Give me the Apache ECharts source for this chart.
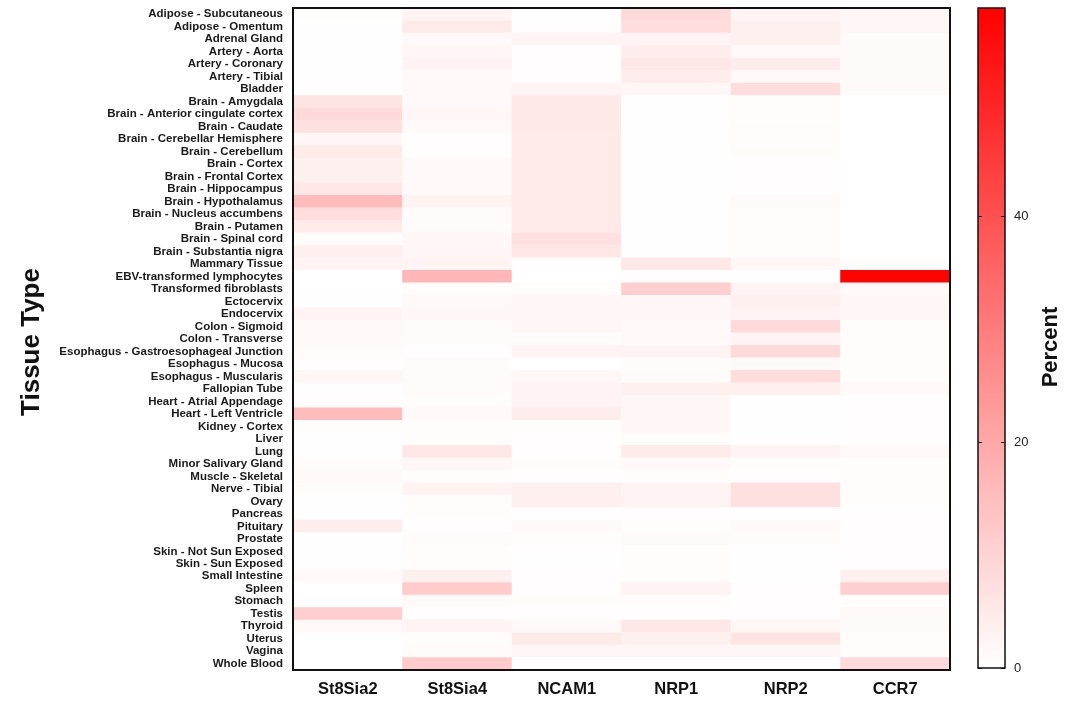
<!DOCTYPE html>
<html>
<head>
<meta charset="utf-8">
<title>Tissue expression heatmap</title>
<script src="https://cdn.jsdelivr.net/npm/echarts@6/dist/echarts.min.js"></script>
<style>
  html, body { margin: 0; padding: 0; background: #fff; }
  #chart { width: 1071px; height: 703px; }
</style>
</head>
<body>
<div id="chart"></div>
<script>
// Tissue rows, top to bottom
const tissues = [
  'Adipose - Subcutaneous', 'Adipose - Omentum', 'Adrenal Gland', 'Artery - Aorta',
  'Artery - Coronary', 'Artery - Tibial', 'Bladder', 'Brain - Amygdala',
  'Brain - Anterior cingulate cortex', 'Brain - Caudate', 'Brain - Cerebellar Hemisphere',
  'Brain - Cerebellum', 'Brain - Cortex', 'Brain - Frontal Cortex', 'Brain - Hippocampus',
  'Brain - Hypothalamus', 'Brain - Nucleus accumbens', 'Brain - Putamen', 'Brain - Spinal cord',
  'Brain - Substantia nigra', 'Mammary Tissue', 'EBV-transformed lymphocytes',
  'Transformed fibroblasts', 'Ectocervix', 'Endocervix', 'Colon - Sigmoid', 'Colon - Transverse',
  'Esophagus - Gastroesophageal Junction', 'Esophagus - Mucosa', 'Esophagus - Muscularis',
  'Fallopian Tube', 'Heart - Atrial Appendage', 'Heart - Left Ventricle', 'Kidney - Cortex',
  'Liver', 'Lung', 'Minor Salivary Gland', 'Muscle - Skeletal', 'Nerve - Tibial', 'Ovary',
  'Pancreas', 'Pituitary', 'Prostate', 'Skin - Not Sun Exposed', 'Skin - Sun Exposed',
  'Small Intestine', 'Spleen', 'Stomach', 'Testis', 'Thyroid', 'Uterus', 'Vagina', 'Whole Blood'
];

// Gene columns, left to right
const genes = ['St8Sia2', 'St8Sia4', 'NCAM1', 'NRP1', 'NRP2', 'CCR7'];

// Percent expression per tissue (same order as tissues)
const st8sia2 = [
  0.7, 0.3, 0.3, 0.3, 0.3, 0.3, 0.4, 6.3, 8.4, 7, 2.1, 4.9, 3.5, 3.5, 5.6, 15.4, 7.7, 4.9, 0.7, 3.5,
  2.8, 0, 0, 0.3, 2.8, 1.4, 1.4, 1, 0.4, 2.1, 0.3, 0.4, 15.4, 0.7, 0.3, 0.3, 1, 1.4, 0.7, 0.3,
  0, 4.2, 0.3, 0.3, 0.3, 1.4, 0, 0.4, 11.2, 1.4, 0.1, 0.1, 0.1
];
const st8sia4 = [
  2.8, 4.9, 1.4, 2.1, 2.8, 1.4, 1.4, 1.4, 2.1, 1.4, 0.4, 0.4, 1.4, 1.4, 1.4, 2.8, 1, 1, 2.1, 2.1,
  2.8, 16.8, 0.7, 1.4, 1.8, 1, 1, 0.4, 1, 1, 1, 0.7, 1.4, 0.7, 0.7, 5.6, 2.1, 0.7, 2.8, 0.7,
  0.7, 0.4, 1, 0.7, 0.7, 3.5, 11.9, 1.4, 0.4, 2.8, 0.7, 1, 11.9
];
const ncam1 = [
  0.3, 0.4, 2.8, 0.4, 0.4, 0.4, 2.8, 5.2, 5.2, 5.2, 5, 5, 5, 5, 5, 5, 5, 5, 7, 5.6,
  0.4, 0, 0.7, 2.1, 2.1, 2.1, 0.7, 2.8, 0, 2.1, 2.8, 2.8, 4.2, 0.7, 0.4, 0.4, 0.7, 0.4, 3.5, 3.5,
  0.4, 1.4, 0.7, 0.4, 0.3, 0.4, 0.4, 0.7, 0.4, 1.4, 4.9, 2.1, 0
];
const nrp1 = [
  8.4, 7.7, 2.8, 4.2, 5.6, 4.2, 2.1, 0.3, 0.3, 0.3, 0.3, 0.3, 0.3, 0.3, 0.3, 0.3, 0.3, 0.3, 0.3, 0.3,
  5.6, 0.4, 11.2, 2.1, 2.1, 1.4, 1.4, 2.8, 1, 1, 3.5, 2.1, 2.1, 2.1, 0.7, 4.9, 1.4, 0.7, 2.8, 2.8,
  0.4, 0.7, 1.1, 0.7, 0.7, 0.7, 2.8, 0.7, 0.4, 5.6, 3.5, 2.1, 0
];
const nrp2 = [
  2.8, 3.5, 3.5, 1.4, 4.2, 1.4, 7.7, 0.7, 0.7, 0.7, 0.7, 0.7, 0.4, 0.4, 0.4, 1.1, 0.7, 0.7, 0.7, 0.7,
  2.1, 0.3, 2.8, 3.5, 2.8, 8.4, 2.8, 8.4, 1.4, 7.7, 3.5, 0.3, 0.3, 0.3, 0.3, 2.8, 0.7, 0.4, 7, 7,
  0.4, 1.4, 1, 0.3, 0.3, 0.3, 0.4, 0.4, 0.4, 2.1, 6.3, 2.1, 0
];
const ccr7 = [
  2.1, 2.1, 1.1, 1.1, 1.1, 1.1, 1.4, 0, 0, 0, 0, 0, 0, 0, 0, 0, 0, 0, 0, 0,
  0.7, 58, 1.4, 2.1, 2.1, 0.7, 0.7, 0.7, 0.7, 0.7, 1.4, 0.4, 0.4, 0.4, 0.4, 1.4, 0.7, 0.7, 0.7, 0.7,
  0.4, 0.4, 0.4, 0.4, 0.4, 3.5, 11.2, 0.7, 1.4, 1.1, 0.7, 0.7, 8.4
];

// Colour scale
const percentMin = 0;
const percentMax = 58.5;
const percentTicks = [0, 20, 40];

const geneValues = [st8sia2, st8sia4, ncam1, nrp1, nrp2, ccr7];
const cells = [];
geneValues.forEach((values, gi) => {
  values.forEach((v, ti) => cells.push([gi, ti, v]));
});

const FONT = '"Liberation Sans", Arial, Helvetica, sans-serif';
const frameLine = { show: true, lineStyle: { color: '#111', width: 2 } };

const chart = echarts.init(document.getElementById('chart'), null, { renderer: 'canvas' });

chart.setOption({
  animation: false,
  backgroundColor: '#fff',
  textStyle: { fontFamily: FONT },
  grid: [
    { left: 293, top: 8, width: 657, height: 662, show: false },
    {
      left: 978, top: 8, width: 27, height: 660,
      show: true, borderColor: '#111', borderWidth: 1.5,
      backgroundColor: 'transparent', z: 10
    }
  ],
  xAxis: [
    {
      type: 'category', gridIndex: 0, data: genes, position: 'bottom', z: 10,
      axisLine: frameLine, axisTick: { show: false }, splitLine: { show: false },
      axisLabel: { fontSize: 16.5, fontWeight: 'bold', color: '#111', margin: 11, fontFamily: FONT }
    },
    {
      type: 'category', gridIndex: 0, data: genes, position: 'top', z: 10,
      axisLine: frameLine, axisTick: { show: false }, axisLabel: { show: false }, splitLine: { show: false }
    },
    {
      type: 'category', gridIndex: 1, data: ['Percent'], show: false
    }
  ],
  yAxis: [
    {
      type: 'category', gridIndex: 0, data: tissues, inverse: true, position: 'left', z: 10,
      axisLine: frameLine, axisTick: { show: false }, splitLine: { show: false },
      axisLabel: { interval: 0, fontSize: 11.5, fontWeight: 'bold', color: '#1a1a1a', margin: 10, fontFamily: FONT },
      name: 'Tissue Type', nameLocation: 'middle', nameGap: 248, nameRotate: 90,
      nameTextStyle: { fontSize: 26, fontWeight: 'bold', color: '#111', fontFamily: FONT, padding: [0, 6, 0, 0] }
    },
    {
      type: 'category', gridIndex: 0, data: tissues, inverse: true, position: 'right', z: 10,
      axisLine: frameLine, axisTick: { show: false }, axisLabel: { show: false }, splitLine: { show: false }
    },
    {
      type: 'value', gridIndex: 1, min: percentMin, max: percentMax, position: 'left', z: 11,
      axisLine: { show: false }, splitLine: { show: false },
      axisTick: { show: true, inside: true, length: 4, customValues: percentTicks, lineStyle: { color: '#111', width: 1 } },
      axisLabel: { show: false }
    },
    {
      type: 'value', gridIndex: 1, min: percentMin, max: percentMax, position: 'right', z: 11,
      axisLine: { show: false }, splitLine: { show: false },
      axisTick: { show: true, inside: true, length: 4, customValues: percentTicks, lineStyle: { color: '#111', width: 1 } },
      axisLabel: { customValues: percentTicks, fontSize: 13, color: '#222', margin: 9, fontFamily: FONT },
      name: 'Percent', nameLocation: 'middle', nameGap: 35, nameRotate: 90,
      nameTextStyle: { fontSize: 22, fontWeight: 'bold', color: '#111', fontFamily: FONT, padding: [0, 18, 0, 0] }
    }
  ],
  visualMap: {
    type: 'continuous',
    min: percentMin, max: percentMax,
    seriesIndex: 0,
    calculable: false,
    left: 978, top: 8, padding: 0,
    itemWidth: 27, itemHeight: 660,
    text: null,
    inRange: { color: ['#ffffff', '#ff0000'] }
  },
  series: [
    {
      type: 'heatmap',
      xAxisIndex: 0, yAxisIndex: 0,
      data: cells,
      emphasis: { disabled: true },
      itemStyle: { borderWidth: 0 }
    }
  ]
});
</script>
</body>
</html>
